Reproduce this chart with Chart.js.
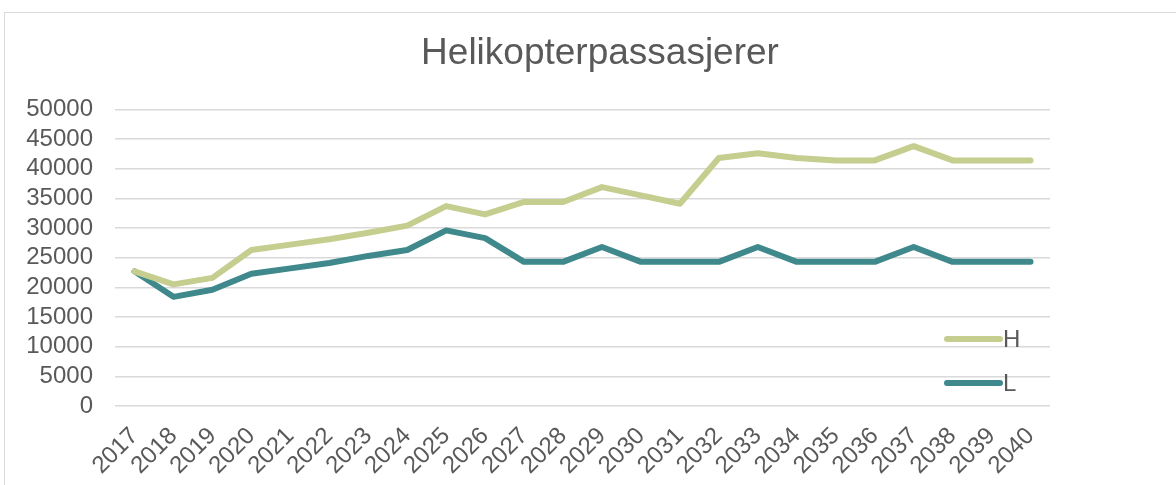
<!DOCTYPE html>
<html>
<head>
<meta charset="utf-8">
<script src="https://cdn.jsdelivr.net/npm/chart.js@4/dist/chart.umd.min.js"></script>
<style>
  html, body { margin: 0; padding: 0; background: #fff; overflow: hidden; }
  #frame { position: absolute; left: 4px; top: 12px; width: 1300px; height: 600px;
           border: 1.5px solid #d9d9d9; box-sizing: border-box; }
  #wrap { position: absolute; left: 0; top: 0; width: 1176px; height: 485px; }
</style>
</head>
<body>
<div id="frame"></div>
<div id="wrap"><canvas id="heliChart" width="1176" height="485"></canvas></div>
<script>
const years = ['2017', '2018', '2019', '2020', '2021', '2022', '2023', '2024', '2025', '2026', '2027', '2028',
               '2029', '2030', '2031', '2032', '2033', '2034', '2035', '2036', '2037', '2038', '2039', '2040'];
const highValues = [22700, 20500, 21600, 26300, 27200, 28100, 29200, 30400, 33700, 32300, 34400, 34400,
                    36900, 35500, 34100, 41800, 42600, 41800, 41400, 41400, 43800, 41400, 41400, 41400];
const lowValues = [22700, 18400, 19600, 22300, 23200, 24100, 25300, 26300, 29600, 28300, 24300, 24300,
                   26800, 24300, 24300, 24300, 26800, 24300, 24300, 24300, 26800, 24300, 24300, 24300];

const textColor = '#595959';
const fontFamily = '"Liberation Sans", Arial, sans-serif';

// legend drawn inside the plot area, bottom right
const insideLegend = {
    id: 'insideLegend',
    afterDraw(chart) {
        const ctx = chart.ctx;
        const area = chart.chartArea;
        const rows = [area.bottom - 67, area.bottom - 23];
        ctx.save();
        chart.data.datasets.forEach(function (ds, i) {
            const y = rows[i];
            ctx.strokeStyle = ds.borderColor;
            ctx.lineWidth = 6;
            ctx.lineCap = 'round';
            ctx.beginPath();
            ctx.moveTo(area.right - 103, y);
            ctx.lineTo(area.right - 50, y);
            ctx.stroke();
            ctx.fillStyle = textColor;
            ctx.font = '24px ' + fontFamily;
            ctx.textBaseline = 'middle';
            ctx.textAlign = 'left';
            ctx.fillText(ds.label, area.right - 47, y + 1);
        });
        ctx.restore();
    }
};

const ctx = document.getElementById('heliChart').getContext('2d');
new Chart(ctx, {
    type: 'line',
    data: {
        labels: years,
        datasets: [{
            label: 'H',
            data: highValues,
            borderColor: '#c5cd8f',
            backgroundColor: '#c5cd8f',
            borderWidth: 6,
            pointRadius: 0,
            tension: 0,
            borderCapStyle: 'round',
            borderJoinStyle: 'round'
        }, {
            label: 'L',
            data: lowValues,
            borderColor: '#3f888b',
            backgroundColor: '#3f888b',
            borderWidth: 6,
            pointRadius: 0,
            tension: 0,
            borderCapStyle: 'round',
            borderJoinStyle: 'round'
        }]
    },
    options: {
        responsive: false,
        animation: false,
        layout: { padding: { top: 12, right: 0, bottom: 0, left: 24 } },
        plugins: {
            legend: { display: false },
            tooltip: { enabled: false },
            title: {
                display: true,
                text: 'Helikopterpassasjerer',
                color: textColor,
                font: { family: fontFamily, size: 37, weight: 'normal' },
                padding: { top: 20, bottom: 33 }
            }
        },
        scales: {
            x: {
                offset: true,
                grid: { display: false },
                border: { display: false },
                ticks: {
                    color: textColor,
                    font: { family: fontFamily, size: 24 },
                    minRotation: 45,
                    maxRotation: 45,
                    autoSkip: false,
                    padding: 8
                },
                afterFit(scale) { scale.height = 79; }
            },
            y: {
                min: 0,
                max: 50000,
                grid: { color: '#d9d9d9', lineWidth: 1.5, drawTicks: false },
                border: { display: false },
                ticks: {
                    stepSize: 5000,
                    autoSkip: false,
                    color: textColor,
                    font: { family: fontFamily, size: 24 },
                    padding: 22,
                    callback: function (value) { return String(value); }
                },
                afterFit(scale) { scale.width = 91; }
            },
            spacer: {
                position: 'right',
                grid: { display: false },
                border: { display: false },
                ticks: { display: false },
                afterFit(scale) { scale.width = 126; }
            }
        }
    },
    plugins: [insideLegend]
});
</script>
</body>
</html>
